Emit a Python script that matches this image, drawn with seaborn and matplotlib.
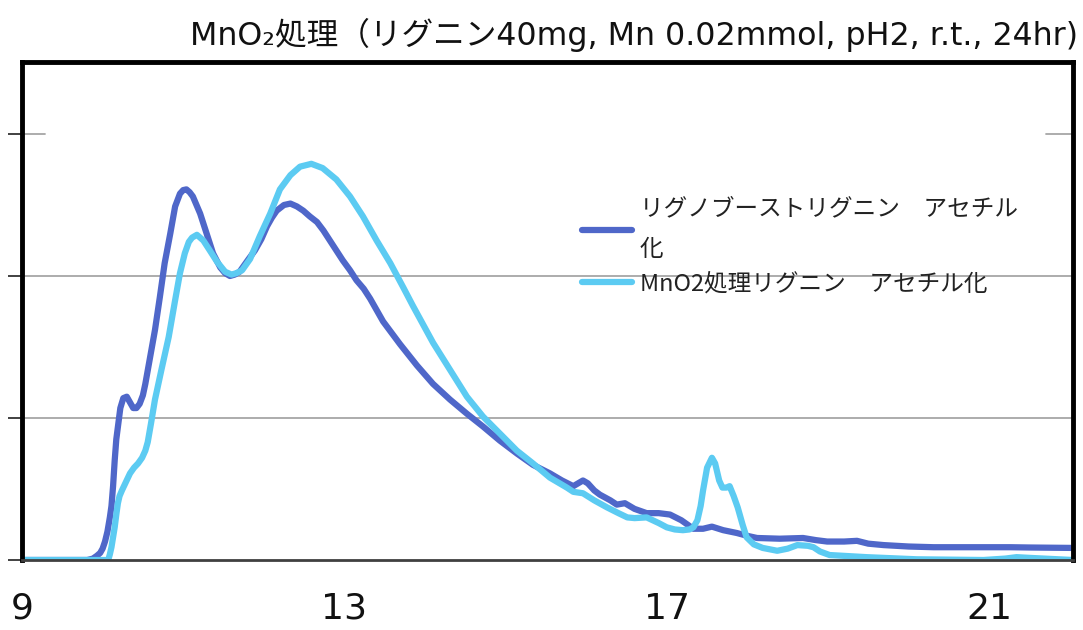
import numpy as np
import pandas as pd
import matplotlib
matplotlib.use("Agg")
import matplotlib.pyplot as plt
import seaborn as sns

# Elution curves (x = elution time, y = detector response)
x_lignoboost = [9.0, 9.81, 9.88, 9.93, 9.97, 10.0, 10.03, 10.06, 10.09, 10.11, 10.13, 10.15,
                10.17, 10.195, 10.22, 10.257, 10.3, 10.34, 10.38, 10.42, 10.46, 10.5, 10.53,
                10.59, 10.65, 10.71, 10.77, 10.84, 10.9, 10.96, 11.0, 11.04, 11.08, 11.12,
                11.21, 11.29, 11.37, 11.46, 11.52, 11.58, 11.64, 11.7, 11.8, 11.89, 11.97,
                12.04, 12.1, 12.16, 12.25, 12.33, 12.41, 12.49, 12.57, 12.66, 12.74, 12.82,
                12.9, 12.98, 13.07, 13.15, 13.24, 13.32, 13.4, 13.48, 13.69, 13.9, 14.1, 14.31,
                14.52, 14.72, 14.93, 15.14, 15.34, 15.55, 15.7, 15.84, 15.9, 15.96, 16.02,
                16.1, 16.17, 16.3, 16.38, 16.48, 16.6, 16.75, 16.9, 17.04, 17.18, 17.33,
                17.45, 17.56, 17.7, 17.87, 18.0, 18.12, 18.4, 18.69, 18.85, 18.99, 19.2,
                19.36, 19.5, 19.69, 20.0, 20.31, 20.8, 21.26, 21.5, 22.04]
y_lignoboost = [0.0, 0.0, 0.01, 0.03, 0.05, 0.08, 0.13, 0.2, 0.3, 0.38, 0.52, 0.7,
                0.85, 0.96, 1.07, 1.14, 1.15, 1.11, 1.07, 1.07, 1.1, 1.16, 1.24,
                1.43, 1.62, 1.85, 2.09, 2.3, 2.49, 2.58, 2.605, 2.61, 2.59, 2.56,
                2.44, 2.3, 2.16, 2.06, 2.02, 2.0, 2.01, 2.03, 2.11, 2.18, 2.26,
                2.35, 2.41, 2.46, 2.5, 2.51, 2.49, 2.46, 2.42, 2.38, 2.32, 2.25,
                2.18, 2.11, 2.04, 1.97, 1.91, 1.84, 1.76, 1.68, 1.52, 1.37, 1.24, 1.13,
                1.03, 0.94, 0.84, 0.75, 0.67, 0.61, 0.56, 0.52, 0.54, 0.56, 0.54,
                0.49, 0.46, 0.42, 0.39, 0.4, 0.36, 0.33, 0.33, 0.32, 0.28, 0.22,
                0.22, 0.235, 0.21, 0.19, 0.17, 0.155, 0.15, 0.155, 0.14, 0.13, 0.13,
                0.135, 0.115, 0.105, 0.095, 0.09, 0.09, 0.09, 0.088, 0.085]

x_mno2 = [9.0, 10.07, 10.09, 10.11, 10.13, 10.15, 10.17, 10.19, 10.21, 10.24, 10.29, 10.34,
          10.39, 10.44, 10.49, 10.53, 10.56, 10.6, 10.65, 10.73, 10.82, 10.9, 10.96, 11.02,
          11.07, 11.11, 11.17, 11.25, 11.33, 11.42, 11.52, 11.6, 11.66, 11.73, 11.83, 11.95,
          12.08, 12.2, 12.33, 12.45, 12.59, 12.73, 12.9, 13.07, 13.23, 13.4, 13.57, 13.73,
          13.85, 14.1, 14.31, 14.52, 14.72, 14.93, 15.14, 15.34, 15.55, 15.76, 15.84, 15.96,
          16.1, 16.26, 16.4, 16.51, 16.6, 16.75, 16.9, 17.0, 17.1, 17.2, 17.28, 17.33,
          17.38, 17.42, 17.45, 17.5, 17.56, 17.6, 17.65, 17.69, 17.74, 17.78, 17.83, 17.88,
          17.94, 17.99, 18.08, 18.19, 18.37, 18.5, 18.62, 18.75, 18.82, 18.9, 19.02, 19.48,
          20.1, 20.93, 21.2, 21.34, 21.5, 22.04]
y_mno2 = [0.0, 0.0, 0.04, 0.09, 0.16, 0.23, 0.32, 0.4, 0.45, 0.49, 0.55, 0.61,
          0.65, 0.68, 0.72, 0.77, 0.83, 0.96, 1.13, 1.34, 1.57, 1.83, 2.02, 2.16,
          2.24, 2.27, 2.29, 2.25, 2.18, 2.1, 2.03, 2.01, 2.02, 2.04, 2.12, 2.28,
          2.44, 2.61, 2.71, 2.77, 2.79, 2.76, 2.68, 2.56, 2.42, 2.25, 2.09, 1.92,
          1.79, 1.53, 1.34, 1.15, 1.01, 0.89, 0.77, 0.68, 0.58, 0.51, 0.48, 0.47,
          0.42, 0.37, 0.33, 0.3, 0.295, 0.3, 0.26, 0.23, 0.215, 0.21, 0.215, 0.23,
          0.28, 0.38, 0.49, 0.65, 0.72, 0.68, 0.56, 0.51, 0.51, 0.52, 0.45, 0.37,
          0.25, 0.16, 0.11, 0.085, 0.065, 0.08, 0.105, 0.1, 0.09, 0.06, 0.035, 0.02,
          0.005, 0.0, 0.01, 0.02, 0.015, 0.0]

label_lignoboost = "リグノブーストリグニン　アセチル\n化"
label_mno2 = "MnO2処理リグニン　アセチル化"
title = "MnO₂処理（リグニン40mg, Mn 0.02mmol, pH2, r.t., 24hr)"
x_ticks = [9, 13, 17, 21]
y_grid = [1, 2]

sns.set_style("white")
plt.rcParams['font.family'] = ['Noto Sans CJK JP', 'DejaVu Sans']

fig = plt.figure(figsize=(10.83, 6.3), dpi=100)
ax = fig.add_axes([22 / 1083, 1 - 560 / 630, 1051 / 1083, 498 / 630])

for yv in y_grid:
    ax.axhline(yv, color='#a6a6a6', lw=1.3, zorder=0)
# the top gridline only shows near the frame edges in the original
ax.axhline(3, xmin=0, xmax=0.022, color='#a6a6a6', lw=1.3, zorder=0)
ax.axhline(3, xmin=0.974, xmax=1, color='#a6a6a6', lw=1.3, zorder=0)

line_kw = dict(lw=4.5, sort=False, estimator=None,
               solid_joinstyle='round', solid_capstyle='round')
sns.lineplot(x=x_lignoboost, y=y_lignoboost, ax=ax, color='#4f67c9',
             label=label_lignoboost, **line_kw)
sns.lineplot(x=x_mno2, y=y_mno2, ax=ax, color='#5ccbf2',
             label=label_mno2, **line_kw)

ax.set_xlim(9, 22.04)
ax.set_ylim(0, 3.507)
ax.set_xticks(x_ticks)
ax.set_xticklabels([str(t) for t in x_ticks], fontsize=26, family='DejaVu Sans', color='#111111')
ax.set_yticks([0, 1, 2, 3])
ax.set_yticklabels([])
ax.tick_params(axis='x', direction='out', length=11, width=1.3, color='#a6a6a6', pad=12)
ax.tick_params(axis='y', direction='out', length=10, width=1.3, color='#333333', left=True)
ax.set_xlabel('')
ax.set_ylabel('')

for side in ['left', 'top', 'right']:
    ax.spines[side].set_color('black')
    ax.spines[side].set_linewidth(3.5)
ax.spines['bottom'].set_color('#404040')
ax.spines['bottom'].set_linewidth(2)

leg = ax.legend(loc='upper left', bbox_to_anchor=(0.533, 0.728), frameon=False,
                fontsize=17, handlelength=2.1, handletextpad=0.35, labelspacing=0.5,
                borderpad=0, borderaxespad=0)
for t in leg.get_texts():
    t.set_linespacing(1.95)
    t.set_color('#222222')

fig.text(1078 / 1083, 1 - 35 / 630, title, ha='right', va='center', fontsize=22.8,
         family=['DejaVu Sans', 'Noto Sans CJK JP'], color='#111111')

fig.savefig('out.png', dpi=100)
